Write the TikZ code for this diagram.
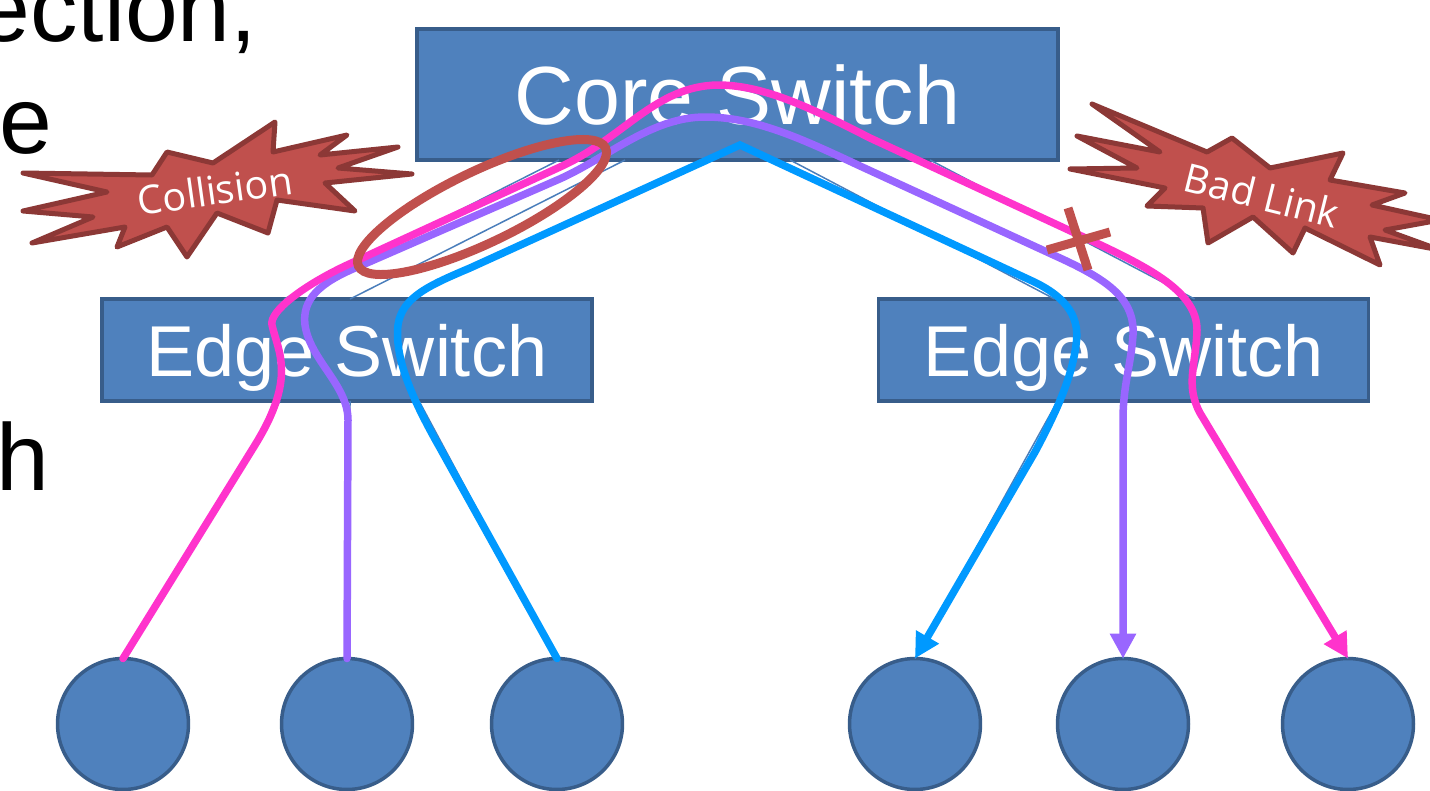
\documentclass[tikz,border=0pt]{standalone}
\usepackage{fontspec}
\setmainfont{Liberation Sans}
\newfontfamily\burstfont{Open Sans}
\usetikzlibrary{arrows.meta,calc}
\definecolor{boxfill}{HTML}{4F81BD}
\definecolor{boxline}{HTML}{385D8A}
\definecolor{burstfill}{HTML}{C0504D}
\definecolor{burstline}{HTML}{8C3836}
\definecolor{pinkc}{HTML}{FF33CC}
\definecolor{purplec}{HTML}{9966FF}
\definecolor{bluec}{HTML}{0099FF}
\definecolor{linkc}{HTML}{4A7EBB}
\begin{document}
\begin{tikzpicture}[x=0.02cm,y=-0.02cm,
  bgtext/.style={anchor=base east, inner sep=0pt, outer sep=0pt, font=\fontsize{54}{60}\selectfont},
  switchbox/.style={draw=boxline, fill=boxfill, line width=0.07cm, text=white, inner sep=0pt, outer sep=0pt},
  host/.style={circle, draw=boxline, fill=boxfill, line width=0.07cm, minimum size=2.62cm, inner sep=0pt, outer sep=0pt},
  link/.style={draw=linkc, line width=0.03cm},
  flow/.style={line width=0.15cm, line cap=round, line join=round, -{Triangle[length=0.5cm,width=0.5cm]}},
  burst/.style={draw=burstline, fill=burstfill, line width=0.1cm, line join=round},
  burstlabel/.style={text=white, inner sep=0pt, font=\burstfont\fontsize{22.5}{26}\selectfont},
  crossmark/.style={draw=burstfill, line width=0.18cm},
  collide/.style={draw=burstfill, line width=0.18cm}
]
\useasboundingbox (0,0) rectangle (1430,791);
\clip (0,0) rectangle (1430,791);

% background slide text fragments
\node[bgtext] (t1) at (257,41) {ection,};
\node[bgtext] (t2) at (52,153) {e};
\node[bgtext] (t3) at (49,490) {h};

% switches
\node[switchbox, minimum width=12.82cm, minimum height=2.62cm, font=\fontsize{47}{56}\selectfont] (core) at (737.5,94.5) {Core Switch};
\node[switchbox, minimum width=9.8cm, minimum height=2.04cm, font=\fontsize{41}{49}\selectfont, text depth=0pt] (eL) at (347,350) {Edge Switch};
\node[switchbox, minimum width=9.8cm, minimum height=2.04cm, font=\fontsize{41}{49}\selectfont, text depth=0pt] (eR) at (1123.5,350) {Edge Switch};

% hosts
\node[host] (h1) at (123,724) {};
\node[host] (h2) at (347,724) {};
\node[host] (h3) at (557,724) {};
\node[host] (h4) at (915,724) {};
\node[host] (h5) at (1123,724) {};
\node[host] (h6) at (1348,724) {};

% physical links
\draw[link] ($(core.south west)+(142,0)$) -- ($(eL.north west)+(182,0)$);
\draw[link] ($(core.south west)+(208,0)$) -- ($(eL.north west)+(248,0)$);
\draw[link] ($(core.south west)+(373,0)$) -- ($(eR.north west)+(176,0)$);
\draw[link] ($(core.south west)+(513,0)$) -- ($(eR.north west)+(316,0)$);
\draw[link] ($(eL.south west)+(178,0)$) -- (h1.north);
\draw[link] ($(eL.south west)+(248,0)$) -- (h2.north);
\draw[link] ($(eL.south west)+(317,0)$) -- (h3.north);
\draw[link] ($(eR.south west)+(179,0)$) -- (h4.north);
\draw[link] ($(eR.south west)+(246,0)$) -- (h5.north);
\draw[link] ($(eR.south west)+(316,0)$) -- (h6.north);

% flows
\draw[flow, draw=bluec, line join=miter] (h3.north) -- (440,448)
  .. controls (415,404) and (394,360) .. (398,325)
  .. controls (402,297) and (430,285) .. (470,268)
  -- (740,145) -- (1030,280)
  .. controls (1070,298) and (1080,320) .. (1076,345)
  .. controls (1072,375) and (1060,405) .. (1035,452) -- (h4.north);
\draw[flow, draw=purplec] (h2.north) -- (348,420)
  .. controls (348,385) and (310,360) .. (305,325)
  .. controls (302,300) and (318,283) .. (360,266)
  -- (555,181)
  .. controls (605,160) and (650,117) .. (705,117)
  .. controls (755,117) and (800,138) .. (860,166)
  -- (1060,258)
  .. controls (1110,281) and (1135,300) .. (1133,335)
  .. controls (1131,365) and (1123,385) .. (1123,420) -- (h5.north);
\draw[flow, draw=pinkc] (h1.north) -- (255,445)
  .. controls (297,377) and (278,352) .. (272,325)
  .. controls (269,311) and (305,285) .. (345,266)
  -- (560,167)
  .. controls (624,138) and (655,86) .. (718,85)
  .. controls (765,85) and (815,110) .. (870,138)
  -- (1090,240)
  .. controls (1150,268) and (1197,292) .. (1197,330)
  .. controls (1196,365) and (1185,385) .. (1200,413) -- (h6.north);

% collision ellipse
\draw[collide] (482,207) ellipse [x radius=2.74cm, y radius=0.72cm, rotate=25.6];

% bad link cross
\draw[crossmark] (1047,250) -- (1110,232);
\draw[crossmark] (1068,208) -- (1088,270);

% starbursts
\draw[burst] (23,173) -- (107,192) -- (23,211) -- (93,217) -- (32,243) -- (125,227)
  -- (117,247) -- (167,227) -- (187,257) -- (217,213) -- (268,233) -- (277,200)
  -- (355,211) -- (325,183) -- (412,174) -- (338,168) -- (398,147) -- (320,155)
  -- (347,135) -- (273,152) -- (275,122) -- (213,163) -- (167,152) -- (152,175) -- cycle;
\node[burstlabel, rotate=8] (coll) at (215,190) {Collision};

\draw[burst] (1092,104) -- (1207,152) -- (1232,138) -- (1270,168) -- (1343,153)
  -- (1330,180) -- (1405,193) -- (1372,205) -- (1440,220) -- (1385,230) -- (1440,250)
  -- (1370,237) -- (1380,265) -- (1305,228) -- (1293,253) -- (1253,217) -- (1208,243)
  -- (1203,208) -- (1147,206) -- (1165,188) -- (1070,169) -- (1137,168) -- (1077,136)
  -- (1160,152) -- cycle;
\node[burstlabel, rotate=-14] (bad) at (1262,195) {Bad Link};
\end{tikzpicture}
\end{document}
